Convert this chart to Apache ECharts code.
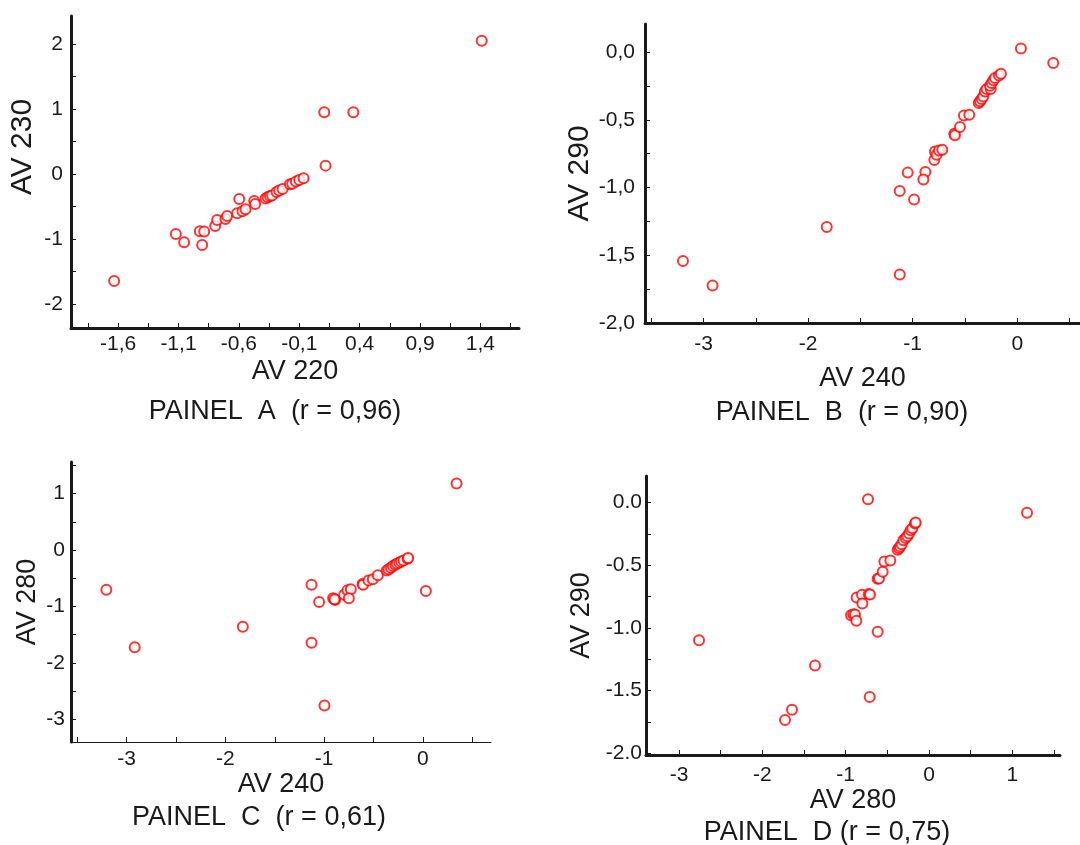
<!DOCTYPE html>
<html>
<head>
<meta charset="utf-8">
<script src="https://cdn.jsdelivr.net/npm/echarts@6/dist/echarts.min.js"></script>
<style>
html,body{margin:0;padding:0;background:#fff;}
#chart{width:1080px;height:845px;}
</style>
</head>
<body>
<div id="chart"></div>
<script>
// ---------- DATA ----------
// Panel A: AV 220 (x) vs AV 230 (y)
const aX = [-1.633,-1.122,-1.053,-0.923,-0.887,-0.904,-0.796,-0.780,-0.711,-0.697,-0.614,-0.597,-0.570,-0.545,-0.473,-0.465,-0.379,-0.362,-0.343,-0.325,-0.288,-0.266,-0.238,-0.177,-0.158,-0.128,-0.100,-0.064,0.107,0.118,0.348,1.411];
const aY = [-1.646,-0.923,-1.051,-0.882,-0.887,-1.092,-0.800,-0.708,-0.692,-0.646,-0.605,-0.385,-0.574,-0.544,-0.415,-0.462,-0.379,-0.359,-0.338,-0.330,-0.277,-0.256,-0.231,-0.159,-0.149,-0.118,-0.092,-0.067,0.949,0.128,0.949,2.051];
// Panel B: AV 240 (x) vs AV 290 (y)
const bX = [-3.197,-2.914,-1.822,-1.124,-1.124,-0.987,-1.048,-0.879,-0.898,-0.793,-0.787,-0.771,-0.749,-0.717,-0.602,-0.596,-0.548,-0.510,-0.459,-0.369,-0.357,-0.340,-0.325,-0.309,-0.293,-0.254,-0.261,-0.245,-0.229,-0.213,-0.175,-0.156,0.035,0.344];
const bY = [-1.542,-1.723,-1.292,-1.642,-1.025,-1.088,-0.890,-0.885,-0.941,-0.797,-0.734,-0.758,-0.726,-0.721,-0.603,-0.615,-0.554,-0.468,-0.463,-0.377,-0.364,-0.347,-0.328,-0.291,-0.273,-0.273,-0.249,-0.229,-0.209,-0.192,-0.173,-0.160,0.027,-0.081];
// Panel C: AV 240 (x) vs AV 280 (y)
const cX = [-3.206,-2.919,-1.824,-1.128,-1.128,-1.051,-0.997,-0.909,-0.889,-0.895,-0.797,-0.764,-0.730,-0.750,-0.611,-0.605,-0.551,-0.507,-0.456,-0.365,-0.348,-0.324,-0.304,-0.280,-0.264,-0.240,-0.220,-0.196,-0.155,-0.149,0.030,0.341];
const cY = [-0.702,-1.723,-1.357,-0.614,-1.640,-0.920,-2.755,-0.855,-0.885,-0.870,-0.790,-0.714,-0.696,-0.855,-0.602,-0.614,-0.537,-0.519,-0.448,-0.360,-0.342,-0.313,-0.283,-0.260,-0.242,-0.224,-0.201,-0.183,-0.153,-0.142,-0.726,1.180];
// Panel D: AV 280 (x) vs AV 290 (y)
const dX = [-2.760,-1.728,-1.644,-1.368,-0.712,-0.732,-0.616,-0.936,-0.908,-0.888,-0.872,-0.868,-0.804,-0.800,-0.724,-0.708,-0.616,-0.600,-0.556,-0.536,-0.464,-0.376,-0.360,-0.348,-0.328,-0.308,-0.280,-0.260,-0.240,-0.220,-0.200,-0.168,-0.160,1.176];
const dY = [-1.097,-1.734,-1.652,-1.299,-1.551,0.027,-1.031,-0.898,-0.890,-0.892,-0.943,-0.757,-0.736,-0.805,-0.730,-0.733,-0.608,-0.606,-0.552,-0.470,-0.462,-0.377,-0.364,-0.351,-0.332,-0.300,-0.282,-0.268,-0.247,-0.220,-0.205,-0.167,-0.159,-0.082];

// tick labels and tick marks
const aXLabels = [-1.6,-1.1,-0.6,-0.1,0.4,0.9,1.4];
const aXTicks  = [-1.85,-1.6,-1.35,-1.1,-0.85,-0.6,-0.35,-0.1,0.15,0.4,0.65,0.9,1.15,1.4,1.65];
const aYLabels = [-2,-1,0,1,2];
const aYTicks  = [-2,-1.5,-1,-0.5,0,0.5,1,1.5,2];
const bXLabels = [-3,-2,-1,0];
const bXTicks  = [-3.5,-3,-2.5,-2,-1.5,-1,-0.5,0,0.5];
const bYLabels = [-2,-1.5,-1,-0.5,0];
const bYTicks  = [-2,-1.75,-1.5,-1.25,-1,-0.75,-0.5,-0.25,0];
const cXLabels = [-3,-2,-1,0];
const cXTicks  = [-3.5,-3,-2.5,-2,-1.5,-1,-0.5,0,0.5];
const cYLabels = [-3,-2,-1,0,1];
const cYTicks  = [-3,-2.5,-2,-1.5,-1,-0.5,0,0.5,1,1.5];
const dXLabels = [-3,-2,-1,0,1];
const dXTicks  = [-3,-2.5,-2,-1.5,-1,-0.5,0,0.5,1,1.5];
const dYLabels = [-2,-1.5,-1,-0.5,0];
const dYTicks  = [-2,-1.75,-1.5,-1.25,-1,-0.75,-0.5,-0.25,0];

const titles = ['PAINEL  A  (r = 0,96)','PAINEL  B  (r = 0,90)','PAINEL  C  (r = 0,61)','PAINEL  D (r = 0,75)'];

// ---------- STYLE ----------
const FONT = "'Liberation Sans', Arial, Helvetica, sans-serif";
const INK = '#1a1a1a';
const fmtInt = v => String(Math.round(v));
const fmtComma = v => v.toFixed(1).replace('.', ',');
const fmtDot = v => v.toFixed(1);

function axis(o) {
  return {
    type: 'value', gridIndex: o.grid, min: o.min, max: o.max,
    name: o.name, nameLocation: 'middle', nameGap: o.nameGap,
    nameTextStyle: {fontFamily: FONT, fontSize: o.nameSize || 27, color: INK},
    axisLine: {show: true, onZero: false, lineStyle: {color: INK, width: o.lw}},
    axisTick: {show: true, inside: true, length: 5, customValues: o.ticks, lineStyle: {color: INK, width: 1}},
    axisLabel: {show: true, customValues: o.labels, formatter: o.fmt, margin: o.margin,
      fontFamily: FONT, fontSize: 21, color: INK},
    splitLine: {show: false}
  };
}
function zip(xs, ys) { return xs.map((x, i) => [x, ys[i]]); }

const grids = [
  {left: 71, top: 16, width: 448, height: 312},
  {left: 645, top: 24, width: 435, height: 299},
  {left: 71, top: 462, width: 420, height: 280},
  {left: 646, top: 476, width: 414, height: 279}
];

const xAxes = [
  axis({grid:0, min:-1.99, max:1.72, name:'AV 220', nameGap:30, lw:3, ticks:aXTicks, labels:aXLabels, fmt:fmtComma, margin:6}),
  axis({grid:1, min:-3.56, max:0.6, name:'AV 240', nameGap:42, lw:3, ticks:bXTicks, labels:bXLabels, fmt:fmtInt, margin:11}),
  axis({grid:2, min:-3.564, max:0.69, name:'AV 240', nameGap:24, lw:1.2, ticks:cXTicks, labels:cXLabels, fmt:fmtInt, margin:7}),
  axis({grid:3, min:-3.396, max:1.572, name:'AV 280', nameGap:24, lw:3, ticks:dXTicks, labels:dXLabels, fmt:fmtInt, margin:10})
];
const yAxes = [
  axis({grid:0, min:-2.37, max:2.43, name:'', nameGap:34, lw:3, ticks:aYTicks, labels:aYLabels, fmt:fmtInt, margin:8}),
  axis({grid:1, min:-2.0, max:0.207, name:'AV 290', nameGap:46, nameSize:30, lw:3, ticks:bYTicks, labels:bYLabels, fmt:fmtComma, margin:10}),
  axis({grid:2, min:-3.40, max:1.56, name:'AV 280', nameGap:30, lw:3, ticks:cYTicks, labels:cYLabels, fmt:fmtInt, margin:6}),
  axis({grid:3, min:-2.013, max:0.212, name:'AV 290', nameGap:51, lw:3, ticks:dYTicks, labels:dYLabels, fmt:fmtDot, margin:4})
];

const sets = [zip(aX,aY), zip(bX,bY), zip(cX,cY), zip(dX,dY)];
const series = sets.map((d, i) => ({
  type: 'scatter', xAxisIndex: i, yAxisIndex: i, data: d,
  symbol: 'emptyCircle', symbolSize: 10,
  itemStyle: {color: '#ff0000', borderColor: '#ff0000', borderWidth: 0.9},
  silent: true, animation: false
}));

const titlePos = [[275, 412], [842, 413], [259, 818], [827, 833]];
const graphic = titles.map((t, i) => ({
  type: 'text', x: titlePos[i][0], y: titlePos[i][1],
  style: {text: t, font: '27px ' + FONT, fill: INK, textAlign: 'center', textVerticalAlign: 'middle'}
}));
// Panel A vertical axis title (placed above the axis middle, as in the reference)
graphic.push({
  type: 'text', x: 23, y: 147, rotation: Math.PI / 2,
  style: {text: 'AV 230', font: '30px ' + FONT, fill: INK, textAlign: 'center', textVerticalAlign: 'middle'}
});

const chart = echarts.init(document.getElementById('chart'), null, {renderer: 'canvas'});
chart.setOption({
  backgroundColor: '#ffffff',
  animation: false,
  grid: grids,
  xAxis: xAxes,
  yAxis: yAxes,
  series: series,
  graphic: graphic
});
</script>
</body>
</html>
